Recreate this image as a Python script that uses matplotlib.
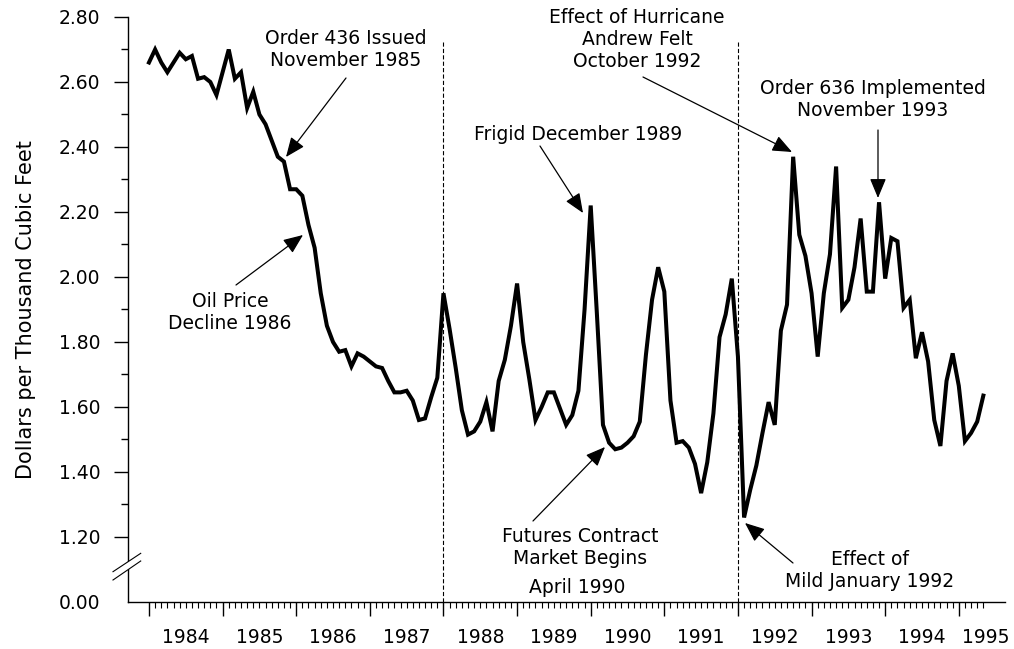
import numpy as np
import matplotlib.pyplot as plt
from matplotlib.patches import Polygon
from matplotlib.transforms import blended_transform_factory

plt.rcParams['font.family'] = ['DejaVu Sans']
plt.rcParams['lines.scale_dashes'] = False

# monthly price in dollars per thousand cubic feet, starting January 1984
prices = [
    2.66, 2.70, 2.66, 2.63, 2.66, 2.69, 2.67, 2.68, 2.61, 2.615, 2.60, 2.56,      # 1984
    2.63, 2.70, 2.61, 2.63, 2.52, 2.57, 2.50, 2.47, 2.42, 2.37, 2.355, 2.27,      # 1985
    2.27, 2.25, 2.16, 2.09, 1.95, 1.85, 1.80, 1.77, 1.775, 1.725, 1.765, 1.755,   # 1986
    1.74, 1.725, 1.72, 1.68, 1.645, 1.645, 1.65, 1.62, 1.56, 1.565, 1.63, 1.69,   # 1987
    1.95, 1.84, 1.72, 1.59, 1.515, 1.525, 1.555, 1.615, 1.525, 1.68, 1.745, 1.85, # 1988
    1.98, 1.80, 1.685, 1.56, 1.60, 1.645, 1.645, 1.595, 1.545, 1.575, 1.65, 1.90, # 1989
    2.22, 1.89, 1.545, 1.49, 1.47, 1.475, 1.49, 1.51, 1.555, 1.76, 1.93, 2.03,    # 1990
    1.955, 1.62, 1.49, 1.495, 1.475, 1.425, 1.335, 1.43, 1.58, 1.815, 1.885, 1.995, # 1991
    1.755, 1.26, 1.345, 1.42, 1.52, 1.615, 1.545, 1.835, 1.915, 2.37, 2.13, 2.065, # 1992
    1.95, 1.755, 1.95, 2.07, 2.34, 1.905, 1.93, 2.03, 2.18, 1.955, 1.955, 2.23,   # 1993
    1.995, 2.12, 2.11, 1.905, 1.93, 1.75, 1.83, 1.74, 1.56, 1.48, 1.68, 1.765,    # 1994
    1.665, 1.495, 1.52, 1.555, 1.635,                                             # 1995
]
years = list(range(1984, 1996))
y_ticks = [1.2, 1.4, 1.6, 1.8, 2.0, 2.2, 2.4, 2.6, 2.8]
axis_floor = 1.0          # the broken axis shows 0.00 here
regime_changes = [48, 96]  # month index of the dashed lines

months = np.arange(len(prices))

fig = plt.figure(figsize=(10.14, 6.49), dpi=100)
ax = fig.add_axes([0.12623, 0.07242, 0.86489, 0.90139])

ax.plot(months, prices, color='black', lw=2.9, solid_joinstyle='miter', zorder=3)
ax.vlines(regime_changes, axis_floor, 2.73, colors='black', lw=0.8,
          linestyles=(0, (3, 1.6)), zorder=2)

ax.set_xlim(-3.42, 139.53)
ax.set_ylim(axis_floor, 2.8)
for s in ['top', 'right']:
    ax.spines[s].set_visible(False)
ax.spines['left'].set_linewidth(1.0)
ax.spines['bottom'].set_linewidth(1.0)

# y axis: ticks every 0.20, break below 1.20
ax.set_yticks([axis_floor] + y_ticks,
              labels=['0.00'] + ['%.2f' % v for v in y_ticks])
ax.set_yticks(np.arange(1.3, 2.75, 0.2), minor=True)
ax.yaxis.get_major_ticks()[0].tick1line.set_visible(False)
ax.tick_params(axis='y', which='major', length=10, width=1.0, pad=10, labelsize=13.5)
ax.tick_params(axis='y', which='minor', length=5, width=1.0)

# x axis: year ticks long, month ticks short, year labels mid-year
year_start = [12 * (y - years[0]) for y in years]
ax.set_xticks(year_start, labels=[])
ax.set_xticks([m for m in range(len(prices)) if m % 12], minor=True)
ax.tick_params(axis='x', which='major', length=10, width=1.0)
ax.tick_params(axis='x', which='minor', length=4, width=0.8)
trans = blended_transform_factory(ax.transData, ax.transAxes)
for k, y in enumerate(years):
    xpos = year_start[k] + 6
    if y == years[-1]:
        xpos -= 1.6
    ax.text(xpos, -0.0615, str(y), transform=trans, ha='center', va='center',
            fontsize=13.5)

ax.set_ylabel('Dollars per Thousand Cubic Feet', fontsize=15, labelpad=16)

# axis break marks
brk = Polygon([(-0.0171, 0.0518), (0.0145, 0.0832), (0.0145, 0.0701), (-0.0171, 0.0376)],
              closed=True, transform=ax.transAxes, facecolor='white',
              edgecolor='none', clip_on=False, zorder=5)
ax.add_patch(brk)
for y0, y1 in [(0.0518, 0.0832), (0.0376, 0.0701)]:
    ax.plot([-0.0171, 0.0145], [y0, y1], transform=ax.transAxes, color='black',
            lw=0.8, clip_on=False, zorder=6)


def px(x, y):
    # reference pixel -> axes fraction
    return ((x - 128) / 877.0, (602 - y) / 585.0)


notes = [
    ('Order 436 Issued\nNovember 1985', (346, 50)),
    ('Oil Price\nDecline 1986', (230, 313)),
    ('Frigid December 1989', (578, 135)),
    ('Futures Contract\nMarket Begins', (580, 548)),
    ('April 1990', (577, 588)),
    ('Effect of\nMild January 1992', (870, 571)),
    ('Effect of Hurricane\nAndrew Felt\nOctober 1992', (637, 40)),
    ('Order 636 Implemented\nNovember 1993', (873, 100)),
]
for txt, pos in notes:
    ax.text(*px(*pos), txt, transform=ax.transAxes, ha='center', va='center',
            fontsize=13.5, linespacing=1.2)

arrows = [
    ((346, 78), (286, 157)),
    ((236, 285), (303, 235)),
    ((540, 146), (583, 213)),
    ((533, 521), (605, 447)),
    ((793, 563), (745, 523)),
    ((643, 77), (792, 152)),
    ((878, 130), (878, 198)),
]
for tail, tip in arrows:
    ax.annotate('', xy=px(*tip), xycoords='axes fraction',
                xytext=px(*tail), textcoords='axes fraction',
                arrowprops=dict(arrowstyle='-|>,head_length=0.6,head_width=0.25',
                                mutation_scale=20, lw=0.9, color='black',
                                shrinkA=0, shrinkB=0))

fig.savefig('out.png', dpi=100, facecolor='white')
